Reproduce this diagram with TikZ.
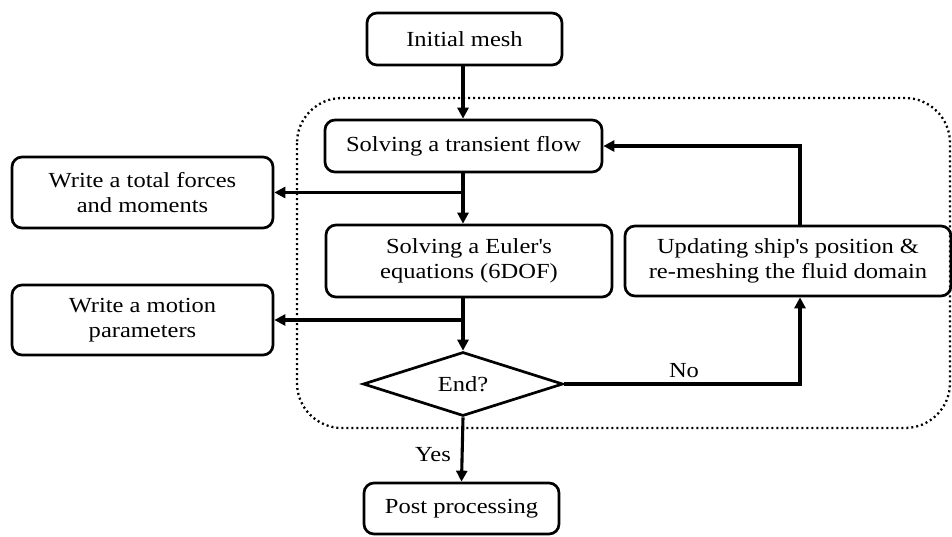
\documentclass[tikz,border=0pt]{standalone}
\usepackage{fontspec}
\setmainfont{Liberation Serif}[FakeStretch=1.14]
\usetikzlibrary{shapes.geometric,arrows.meta}
\begin{document}
\begin{tikzpicture}[x=1pt,y=-1pt,
  box/.style={draw,line width=2.7pt,rounded corners=10pt,align=center,inner sep=0pt,
    font=\fontsize{21.5}{25}\selectfont},
  dec/.style={draw,line width=2.7pt,diamond,aspect=3.1,inner sep=0pt,
    minimum width=200pt,minimum height=64pt,font=\fontsize{21.5}{25}\selectfont},
  conn/.style={line width=3.1pt,-{Triangle[length=11pt,width=11pt]}},
  plain/.style={line width=3.1pt},
  lbl/.style={font=\fontsize{21.5}{25}\selectfont,inner sep=0pt}]
\useasboundingbox (0,0) rectangle (952,536);
\draw[line width=2.3pt,dash pattern=on 2pt off 3pt,rounded corners=45pt]
  (297,98) rectangle (950,428);
\node[box,minimum width=195pt,minimum height=52pt] (init) at (464.5,39) {Initial mesh};
\node[box,minimum width=277pt,minimum height=52pt] (flow) at (463.5,146) {Solving a transient flow};
\node[box,minimum width=261pt,minimum height=71pt] (forces) at (142.5,192.5) {Write a total forces\\and moments};
\node[box,minimum width=286pt,minimum height=72pt] (euler) at (469,261) {Solving a Euler\textquotesingle s\\equations (6DOF)};
\node[box,minimum width=326pt,minimum height=70pt] (update) at (788,261) {Updating ship\textquotesingle s position \&\\re-meshing the fluid domain};
\node[box,minimum width=261pt,minimum height=70pt] (motion) at (142.5,320) {Write a motion\\parameters};
\node[dec] (end) at (463,384) {End?};
\node[box,minimum width=195pt,minimum height=51pt] (post) at (461.5,508.5) {Post processing};
\coordinate (b1) at (463,192.5);
\coordinate (b2) at (463,320);
\coordinate (c1) at (800,384);
\coordinate (c2) at (800,146);
\draw[conn] (b1 |- init.south) -- (b1 |- flow.north);
\draw[plain] (b1 |- flow.south) -- (b1);
\draw[conn] (b1) -- (forces.east);
\draw[conn] (b1) -- (b1 |- euler.north);
\draw[plain] (b1 |- euler.south) -- (b2);
\draw[conn] (b2) -- (motion.east);
\draw[conn] (b2) -- (end.north);
\draw[conn] (end.east) -- (c1) -- (c1 |- update.south);
\draw[conn] (c2 |- update.north) -- (c2) -- (flow.east);
\draw[conn] (end.south) -- (post.north);
\node[lbl] (yes) at (433,455) {Yes};
\node[lbl] (no) at (684,371) {No};
\end{tikzpicture}
\end{document}
